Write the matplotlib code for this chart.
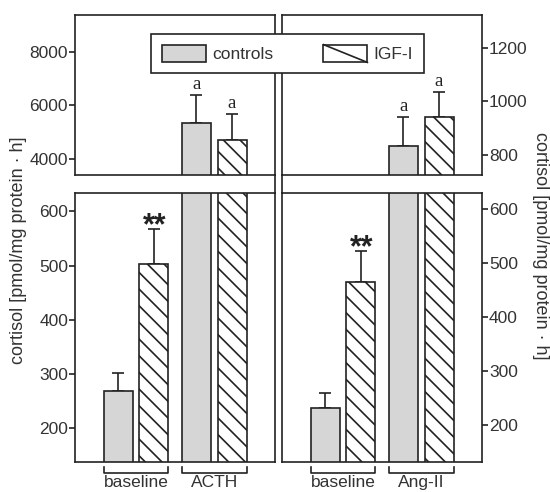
import numpy as np
import matplotlib
matplotlib.use("Agg")
import matplotlib.pyplot as plt
from matplotlib.patches import Patch, Rectangle
from matplotlib.lines import Line2D
from matplotlib.legend_handler import HandlerBase
import matplotlib.transforms as mtransforms

plt.rcParams['font.family'] = 'Liberation Sans'
plt.rcParams['hatch.linewidth'] = 1.2

# --- Daten ---
groups_left = ['baseline', 'ACTH']
groups_right = ['baseline', 'Ang-II']

left_controls = [268, 5360]
left_controls_err = [35, 1035]
left_igf = [503, 4710]
left_igf_err = [65, 960]

right_controls = [232, 834]
right_controls_err = [28, 106]
right_igf = [465, 940]
right_igf_err = [58, 94]

left_marks = ['', 'a']
left_igf_marks = ['**', 'a']
right_marks = ['', 'a']
right_igf_marks = ['**', 'a']

ink = '#222222'
gray = '#d6d6d6'
lw = 1.2

fig = plt.figure(figsize=(5.5, 4.92), dpi=100)

# Achsenpositionen (Figurenkoordinaten)
x_left, x_right, w = 75 / 550, 282 / 550, 200 / 550
y_up0, y_up1 = 1 - 175 / 492, 1 - 15 / 492
y_lo0, y_lo1 = 1 - 462 / 492, 1 - 193 / 492

group_pos = np.array([2.03, 4.64])
off = 0.595
bw = 0.97


def make_panel(x0, ctrl, ctrl_err, igf, igf_err, m_ctrl, m_igf, groups,
               ylim_up, ylim_lo, yticks_up, yticks_lo, side):
    ax_up = fig.add_axes([x0, y_up0, w, y_up1 - y_up0])
    ax_lo = fig.add_axes([x0, y_lo0, w, y_lo1 - y_lo0])
    for ax, ylim, yt in ((ax_up, ylim_up, yticks_up), (ax_lo, ylim_lo, yticks_lo)):
        ax.bar(group_pos - off, ctrl, bw, color=gray, edgecolor=ink, linewidth=lw, zorder=2)
        ax.bar(group_pos + off, igf, bw, color='white', edgecolor=ink, linewidth=lw,
               hatch='\\\\', zorder=2)
        ax.errorbar(group_pos - off, ctrl, yerr=[np.zeros(2), ctrl_err], fmt='none',
                    ecolor=ink, elinewidth=lw, capsize=4, capthick=lw, zorder=1)
        ax.errorbar(group_pos + off, igf, yerr=[np.zeros(2), igf_err], fmt='none',
                    ecolor=ink, elinewidth=lw, capsize=4, capthick=lw, zorder=1)
        ax.set_xlim(0, 200 / 30)
        ax.set_ylim(*ylim)
        ax.set_yticks(yt)
        ax.set_xticks([])
        for s in ax.spines.values():
            s.set_linewidth(lw)
            s.set_color(ink)
        ax.tick_params(axis='y', direction='out', length=4, width=lw, color=ink,
                       labelsize=12.5, labelcolor='#333333', pad=1,
                       left=(side == 'left'), labelleft=(side == 'left'),
                       right=(side == 'right'), labelright=(side == 'right'))
        # Signifikanzmarkierungen
        for i in range(2):
            for xpos, top, m in ((group_pos[i] - off, ctrl[i] + ctrl_err[i], m_ctrl[i]),
                                 (group_pos[i] + off, igf[i] + igf_err[i], m_igf[i])):
                if not m or not (ylim[0] < top < ylim[1]):
                    continue
                if m == 'a':
                    ax.annotate(m, (xpos, top), xytext=(0, 1.5), textcoords='offset points',
                                ha='center', va='bottom', fontsize=13.5,
                                family='Liberation Serif', color=ink)
                else:
                    ax.annotate(m, (xpos, top), xytext=(0.5, -9), textcoords='offset points',
                                ha='center', va='bottom', fontsize=22,
                                fontweight='bold', color=ink)
    # Klammern unter den Gruppen
    trans = mtransforms.blended_transform_factory(ax_lo.transData, ax_lo.transAxes)
    for gx, name in zip(group_pos, groups):
        xa, xb = gx - off - bw / 2, gx + off + bw / 2
        ax_lo.plot([xa, xa, xb, xb], [-0.019, -0.041, -0.041, -0.019], color=ink,
                   lw=lw, transform=trans, clip_on=False)
        ax_lo.text(gx, -0.077, name, transform=trans, ha='center', va='center',
                   fontsize=12.5, color='#333333')
    return ax_up, ax_lo


make_panel(x_left, left_controls, left_controls_err, left_igf, left_igf_err,
           left_marks, left_igf_marks, groups_left,
           (3400, 9380), (138, 634), [4000, 6000, 8000], [200, 300, 400, 500, 600], 'left')
make_panel(x_right, right_controls, right_controls_err, right_igf, right_igf_err,
           right_marks, right_igf_marks, groups_right,
           (726, 1321), (132, 630), [800, 1000, 1200], [200, 300, 400, 500, 600], 'right')

# Innere Rahmenlinien laufen durch die Lücke
for xx in (x_left + w, x_right):
    fig.add_artist(Line2D([xx, xx], [y_lo1, y_up0], transform=fig.transFigure,
                          color=ink, lw=lw))

ylabel = 'cortisol [pmol/mg protein · h]'
fig.text(19 / 550, 1 - 250 / 492, ylabel, rotation=90, ha='center', va='center',
         fontsize=13, color='#333333')
fig.text(540 / 550, 1 - 246 / 492, ylabel, rotation=270, ha='center', va='center',
         fontsize=13, color='#333333')


class DiagonalHandler(HandlerBase):
    def create_artists(self, legend, orig_handle, xdescent, ydescent, width, height,
                       fontsize, trans):
        r = Rectangle((-xdescent, -ydescent), width, height, facecolor='white',
                      edgecolor=ink, lw=lw, transform=trans)
        d = Line2D([-xdescent, -xdescent + width], [-ydescent + height, -ydescent],
                   color=ink, lw=lw, transform=trans)
        return [r, d]


h_ctrl = Patch(facecolor=gray, edgecolor=ink, linewidth=lw)
h_igf = Patch(facecolor='white', edgecolor=ink)
leg = fig.legend([h_ctrl, h_igf], ['controls', 'IGF-I'], ncol=2, loc='center',
                 bbox_to_anchor=((147 + 428) / 2 / 550, 1 - (32 + 75) / 2 / 492),
                 handler_map={h_igf: DiagonalHandler()}, fontsize=12.5,
                 handlelength=2.53, handleheight=1.2, handletextpad=0.35,
                 columnspacing=2.9, borderpad=0.62, fancybox=False, framealpha=1,
                 edgecolor=ink, labelcolor='#333333')
leg.get_frame().set_linewidth(lw)

fig.savefig('out.png', dpi=100)
